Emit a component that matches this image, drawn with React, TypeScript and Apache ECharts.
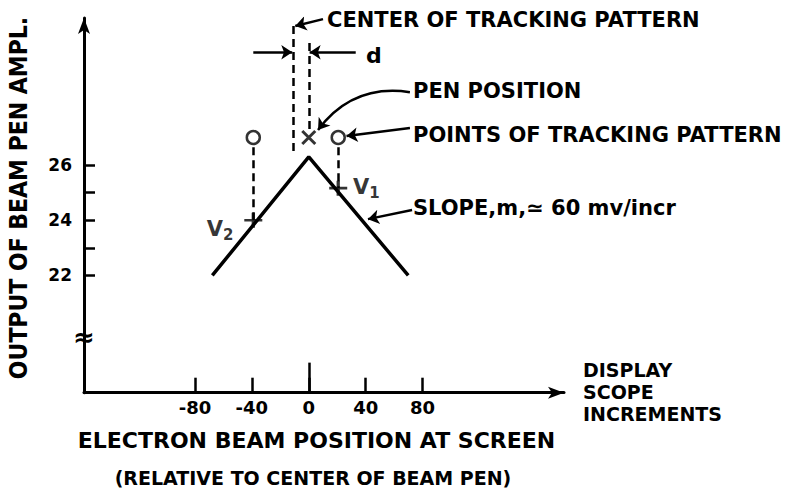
import React, { useEffect, useRef } from "react";
import * as echarts from "echarts";

// ---- data ----
const xTicks = [-80, -40, 0, 40, 80];
const yTicks = [22, 23, 24, 25, 26];
const yTickLabels = [22, 24, 26];
const responseCurve = [[-67.8, 22.0], [0, 26.3], [69.9, 22.0]];
const trackingPoints = [[-39, 27.0], [20.7, 27.0]];
const penPosition = [[0, 27.0]];
const sampleMarks = [[-39, 24.0], [20.7, 25.16]];
const sampleNames = ["2", "1"];
// dashed guide lines [x, yFrom, yTo]
const dashedGuides = [
  [-39, 26.65, 24.0],
  [20.7, 26.65, 25.16],
  [-10.9, 31.04, 26.36],
  [0, 30.42, 27.25],
];
// leader arrows [[x1,y1],[x2,y2], curveness]
const leaderArrows: [number[], number[], number][] = [
  [[10, 31.29], [-9.5, 31.04], 0],
  [[-39, 30.09], [-11.6, 30.09], 0],
  [[33, 30.09], [0.6, 30.09], 0],
  [[71.1, 28.64], [6.5, 27.27], -0.3],
  [[71.1, 27.34], [26.5, 27.05], 0],
  [[72.6, 24.37], [41.6, 24.04], 0],
];
const zeroTickTop = 18.84;

const FONT = "DejaVu Sans";

export default function App() {
  const ref = useRef<HTMLDivElement>(null);
  useEffect(() => {
    if (!ref.current) return;
    const chart = echarts.init(ref.current, null, { renderer: "svg" });
    const yMin = 17.75;
    const txt = (text: string, x: number, y: number, size: number, extra: any = {}) => ({
      type: "text",
      x,
      y,
      silent: true,
      style: {
        text,
        fill: "#000",
        font: `bold ${size}px "${FONT}"`,
        textVerticalAlign: "middle",
        textAlign: "left",
        ...(extra.style || {}),
      },
      ...(extra.el || {}),
    });
    const option: any = {
      animation: false,
      backgroundColor: "#fff",
      grid: { left: 84, top: 18, width: 480, height: 374.7 },
      xAxis: {
        type: "value",
        min: -158,
        max: 179.4,
        splitLine: { show: false },
        axisLine: {
          onZero: false,
          lineStyle: { color: "#000", width: 3 },
          symbol: ["none", "arrow"],
          symbolSize: [9, 16],
        },
        axisTick: {
          show: true,
          inside: true,
          length: 15,
          lineStyle: { color: "#000", width: 2.5 },
          customValues: xTicks,
        },
        axisLabel: {
          customValues: xTicks,
          color: "#000",
          fontFamily: FONT,
          fontWeight: "bold",
          fontSize: 18,
          margin: 6,
        },
      },
      yAxis: {
        type: "value",
        min: yMin,
        max: 31.33,
        splitLine: { show: false },
        axisLine: {
          onZero: false,
          lineStyle: { color: "#000", width: 3 },
          symbol: ["none", "arrow"],
          symbolSize: [9, 16],
        },
        axisTick: {
          show: true,
          inside: true,
          length: 11,
          lineStyle: { color: "#000", width: 2.5 },
          customValues: yTicks,
        },
        axisLabel: {
          customValues: yTickLabels,
          color: "#000",
          fontFamily: FONT,
          fontWeight: "bold",
          fontSize: 17,
          margin: 12,
        },
      },
      series: [
        {
          type: "line",
          data: responseCurve,
          symbol: "none",
          lineStyle: { color: "#000", width: 3.5 },
          z: 3,
          silent: true,
        },
        {
          type: "lines",
          coordinateSystem: "cartesian2d",
          data: dashedGuides.map((d) => ({ coords: [[d[0], d[1]], [d[0], d[2]]] })),
          lineStyle: { color: "#000", width: 2.5, type: [8, 5], opacity: 1 },
          symbol: "none",
          z: 2,
          silent: true,
        },
        {
          type: "lines",
          coordinateSystem: "cartesian2d",
          data: [{ coords: [[0, yMin], [0, zeroTickTop]] }],
          lineStyle: { color: "#000", width: 2.5, opacity: 1 },
          symbol: "none",
          z: 2,
          silent: true,
        },
        {
          type: "lines",
          coordinateSystem: "cartesian2d",
          data: leaderArrows.map((a) => ({
            coords: [a[0], a[1]],
            lineStyle: { curveness: a[2] },
          })),
          lineStyle: { color: "#000", width: 2.5, opacity: 1 },
          symbol: ["none", "arrow"],
          symbolSize: 11,
          z: 4,
          silent: true,
        },
        {
          type: "scatter",
          data: trackingPoints,
          symbol: "circle",
          symbolSize: 13,
          itemStyle: { color: "#fff", borderColor: "#000", borderWidth: 2.5 },
          z: 5,
          silent: true,
        },
        {
          type: "scatter",
          data: penPosition,
          symbol: "path://M0,0L10,10M10,0L0,10",
          symbolSize: 13,
          itemStyle: { color: "none", borderColor: "#000", borderWidth: 3 },
          z: 5,
          silent: true,
        },
        {
          type: "scatter",
          data: sampleMarks.map((p, i) => ({
            value: p,
            label: {
              show: true,
              position: i === 0 ? "left" : "right",
              distance: i === 0 ? 8 : 3,
              offset: i === 0 ? [0, 9] : [0, -1],
              formatter: `{v|V}{s|${sampleNames[i]}}`,
              rich: {
                v: { fontFamily: FONT, fontWeight: "bold", fontSize: 21, color: "#000" },
                s: {
                  fontFamily: FONT,
                  fontWeight: "bold",
                  fontSize: 15,
                  color: "#000",
                  padding: [12, 0, 0, 0],
                },
              },
            },
          })),
          symbol: "path://M0,5L12,5M6,0L6,10",
          symbolSize: [18, 15],
          itemStyle: { color: "none", borderColor: "#000", borderWidth: 3 },
          z: 6,
          silent: true,
        },
      ],
      graphic: [
        txt("CENTER OF TRACKING PATTERN", 327, 20, 21),
        txt("d", 366, 55, 22),
        txt("PEN POSITION", 413, 91, 21),
        txt("POINTS OF TRACKING PATTERN", 413, 135, 21),
        txt("SLOPE,m,\u2243 60 mv/incr", 413, 208, 21),
        txt("DISPLAY", 583, 370, 19),
        txt("SCOPE", 583, 392, 19),
        txt("INCREMENTS", 583, 414, 19),
        txt("ELECTRON BEAM POSITION AT SCREEN", 316.5, 440, 22, {
          style: { textAlign: "center" },
        }),
        txt("(RELATIVE TO CENTER OF BEAM PEN)", 313, 478, 19, {
          style: { textAlign: "center" },
        }),
        txt("OUTPUT OF BEAM PEN AMPL.", 18, 198, 22, {
          style: { textAlign: "center" },
          el: { rotation: Math.PI / 2, scaleY: 1.15 },
        }),
        txt("\u2248", 84, 337, 26, { style: { textAlign: "center" } }),
      ],
    };
    chart.setOption(option);
    return () => chart.dispose();
  }, []);
  return (
    <div
      ref={ref}
      style={{ position: "fixed", left: 0, top: 0, width: 791, height: 493, background: "#fff" }}
    />
  );
}
